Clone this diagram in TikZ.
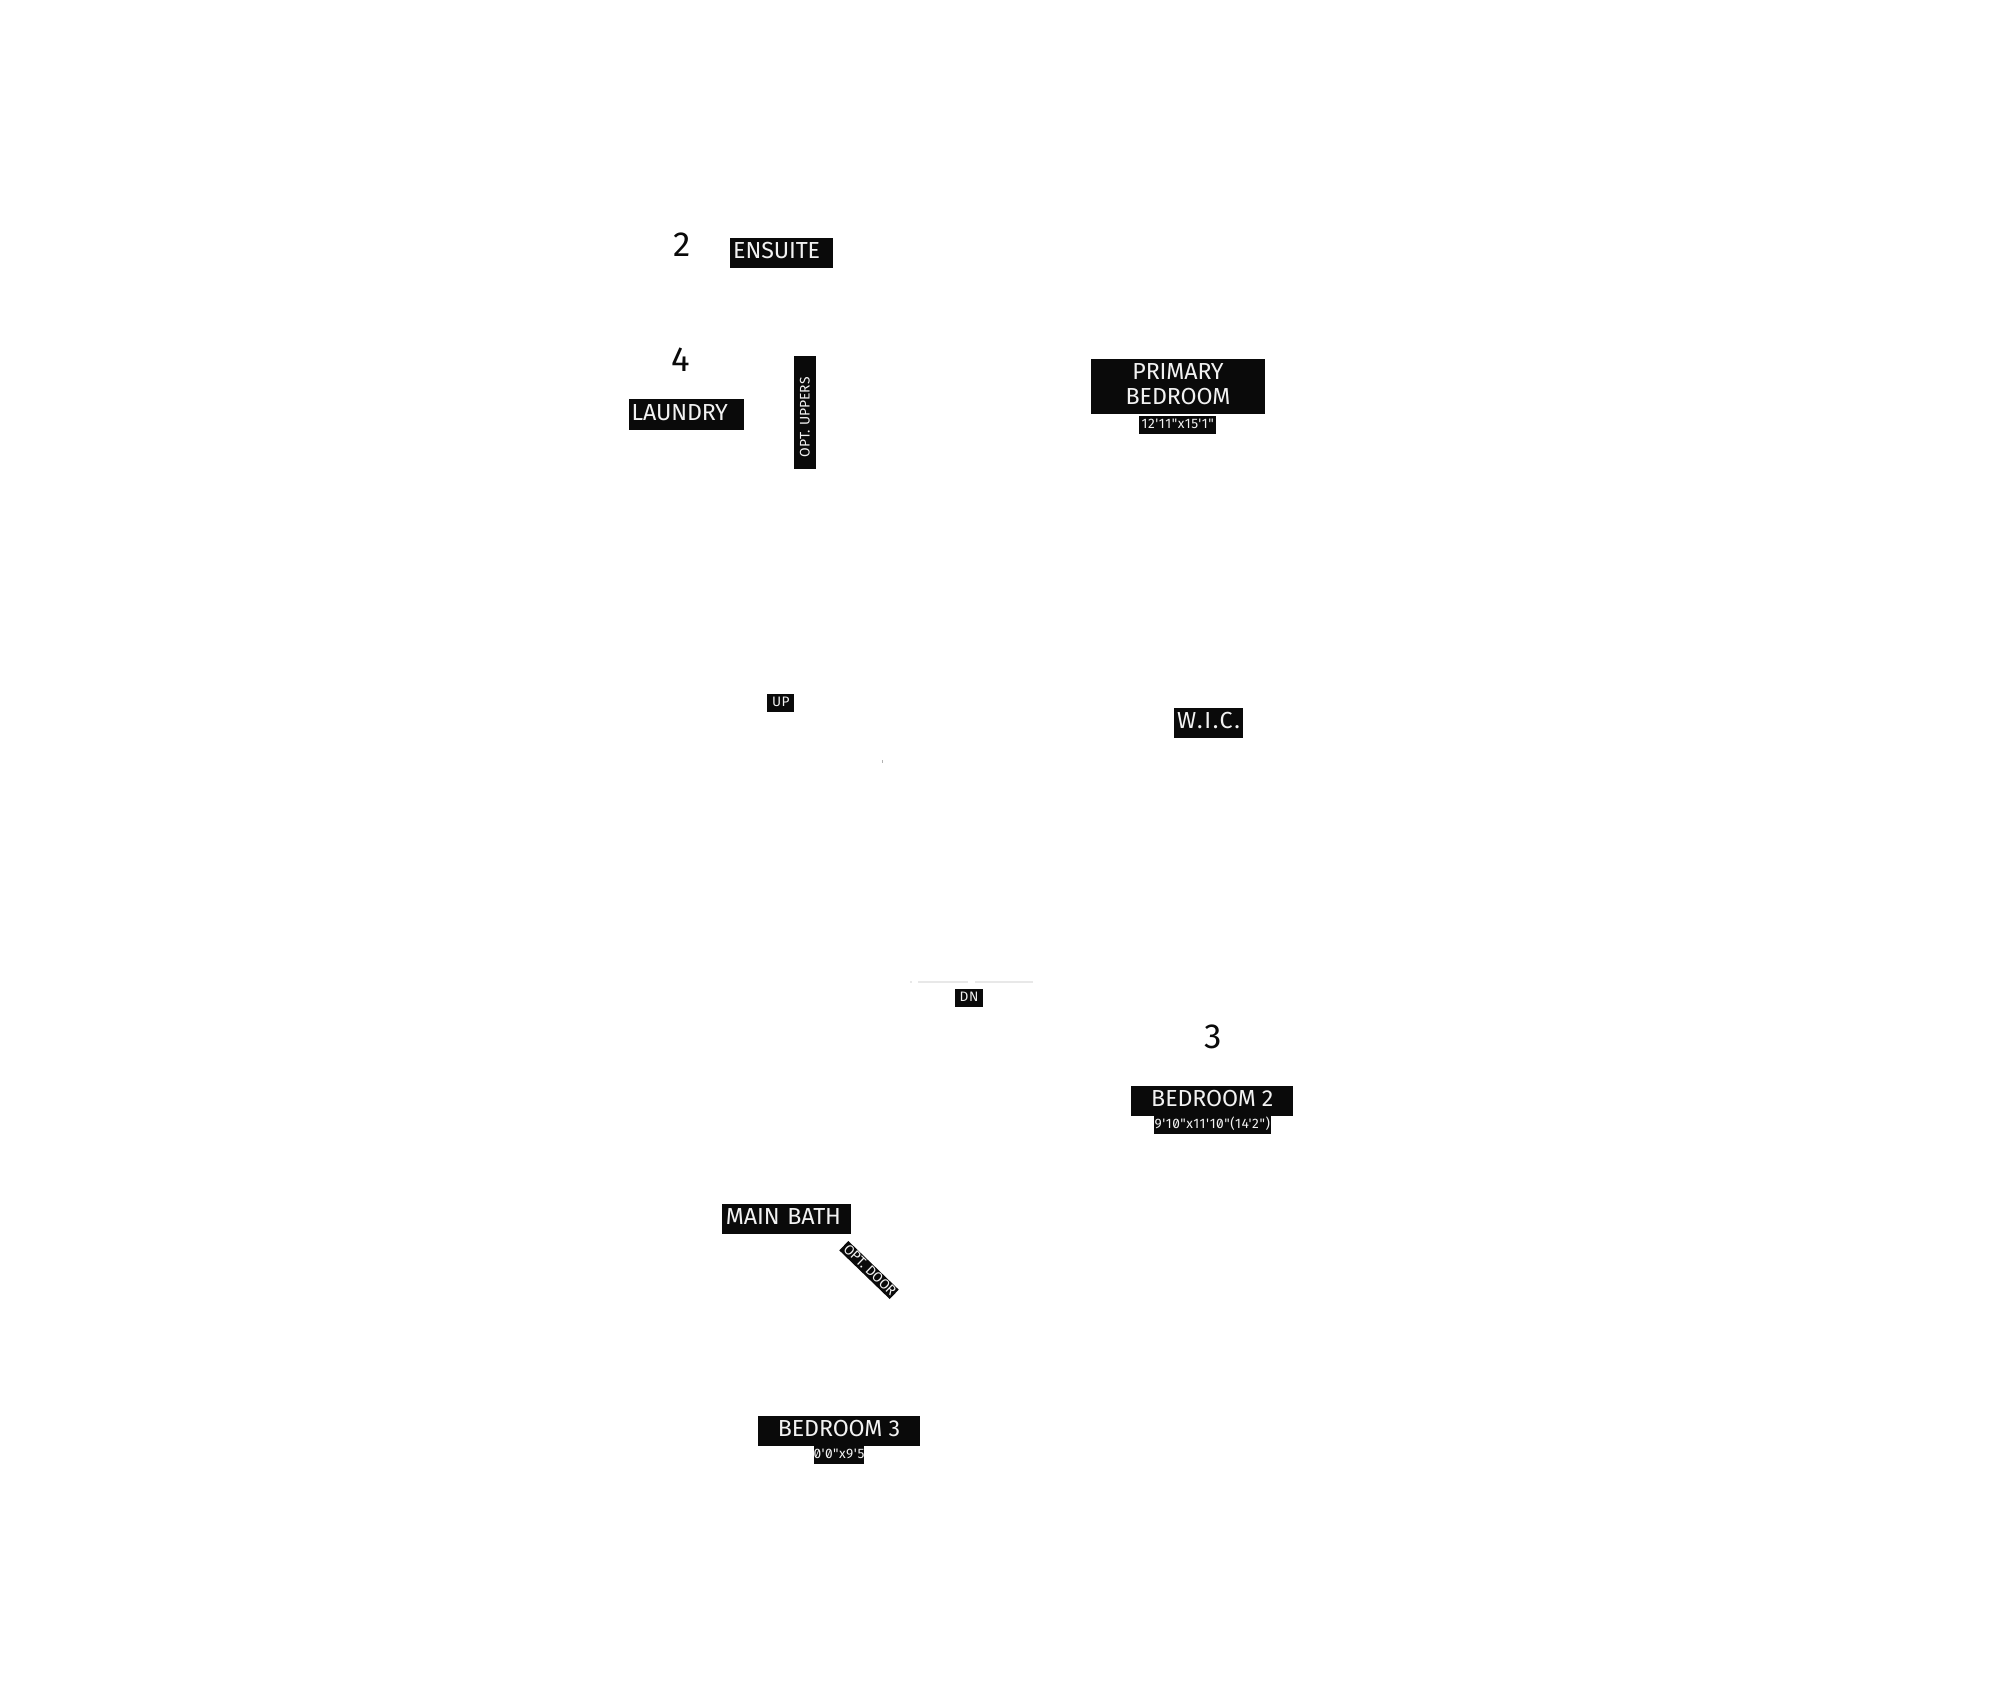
\documentclass[tikz,border=0pt]{standalone}
\usepackage{fontspec}
\setmainfont{Fira Sans}
\newfontfamily\labelfont[Numbers=SlashedZero,LetterSpace=-0.5]{Fira Sans}
\newfontfamily\tinyfont[Numbers=SlashedZero,LetterSpace=4]{Fira Sans}
\definecolor{labelblack}{HTML}{0A0A0A}
\definecolor{labelwhite}{HTML}{F2F2F2}
\definecolor{faintline}{HTML}{E8E8E8}
\tikzset{
  roomlabel/.style={fill=labelblack, text=labelwhite, inner sep=0pt, minimum height=0.3cm,
    font=\labelfont\fontsize{6.6}{7.1}\selectfont, text height=0.16cm, text depth=0.05cm},
  sizelabel/.style={fill=labelblack, text=labelwhite, inner sep=0pt, minimum height=0.18cm,
    font=\tinyfont\fontsize{3.9}{4}\selectfont, text height=0.095cm, text depth=0.02cm},
  noteslabel/.style={fill=labelblack, text=labelwhite, inner sep=0pt,
    font=\labelfont\fontsize{3.95}{5}\selectfont, text height=0.11cm, text depth=0.02cm},
  unitnumber/.style={inner sep=0pt, text=labelblack, font=\fontsize{9.9}{10}\selectfont}
}
\begin{document}
\begin{tikzpicture}[x=0.01cm, y=-0.01cm]
    \useasboundingbox (0,0) rectangle (2000,1706);

    % Unit numbers
    \node[unitnumber] (numtwo) at (682,245) {2};
    \node[unitnumber] (numfour) at (680.5,360) {4};
    \node[unitnumber] (numthree) at (1212.7,1037) {3};

    % Room labels
    \node[roomlabel, minimum width=1.03cm, text width=0.965cm, align=left] (ensuite) at (781.5,253) {ENSUITE};
    \node[roomlabel, minimum width=1.15cm, text width=1.10cm, align=left] (laundry) at (686.7,414.5) {LAUNDRY};
    \node[roomlabel, minimum width=1.74cm, minimum height=0.556cm, align=center, text height=0.41cm, text depth=0.05cm] (primary) at (1178,386.5) {PRIMARY\\BEDROOM};
    \node[roomlabel, minimum width=0.69cm] (wic) at (1208.5,722.7) {\addfontfeature{LetterSpace=7}W.I.C.};
    \node[roomlabel, minimum width=1.62cm] (bedtwo) at (1212.3,1101.3) {BEDROOM 2};
    \node[roomlabel, minimum width=1.29cm, text width=1.21cm, align=left] (mainbath) at (786.5,1218.7) {MAIN~BATH};
    \node[roomlabel, minimum width=1.617cm] (bedthree) at (839,1431.3) {BEDROOM 3};

    % Room sizes
    \node[sizelabel, minimum width=0.767cm] (primarysize) at (1177.7,424.7) {12'11"x15'1"};
    \node[sizelabel, minimum width=1.167cm] (bedtwosize) at (1212.3,1125) {\makebox[1.167cm]{9'10"x11'10"(14'2")}};
    \node[sizelabel, minimum width=0.497cm] (bedthreesize) at (839,1455) {\makebox[0.497cm]{0'0"x9'5}};

    % Stairs
    \node[sizelabel, minimum width=0.27cm] (stairup) at (780.8,702.7) {UP};
    \node[sizelabel, minimum width=0.274cm] (stairdown) at (969,998) {DN};

    % Notes
    \node[noteslabel, rotate=90, minimum width=1.13cm, minimum height=0.226cm, text width=0.89cm, align=left] (uppers) at (805,412.5) {\mbox{OPT.~UPPERS}};
    \node[noteslabel, rotate=-44, minimum width=0.7cm, minimum height=0.13cm, text height=0.09cm, text depth=0.01cm] (door) at (869,1270) {\makebox[0.68cm][r]{OPT.~DOOR}};

    % Faint leftovers
    \draw[faintline, line width=0.3pt] (910,982) -- (912,982);
    \draw[faintline, line width=0.3pt] (918,982) -- (968,982);
    \draw[faintline, line width=0.3pt] (975,982) -- (1033,982);
    \draw[gray!60, line width=0.2pt] (882.3,760.2) -- (882.3,763.2);
\end{tikzpicture}
\end{document}
